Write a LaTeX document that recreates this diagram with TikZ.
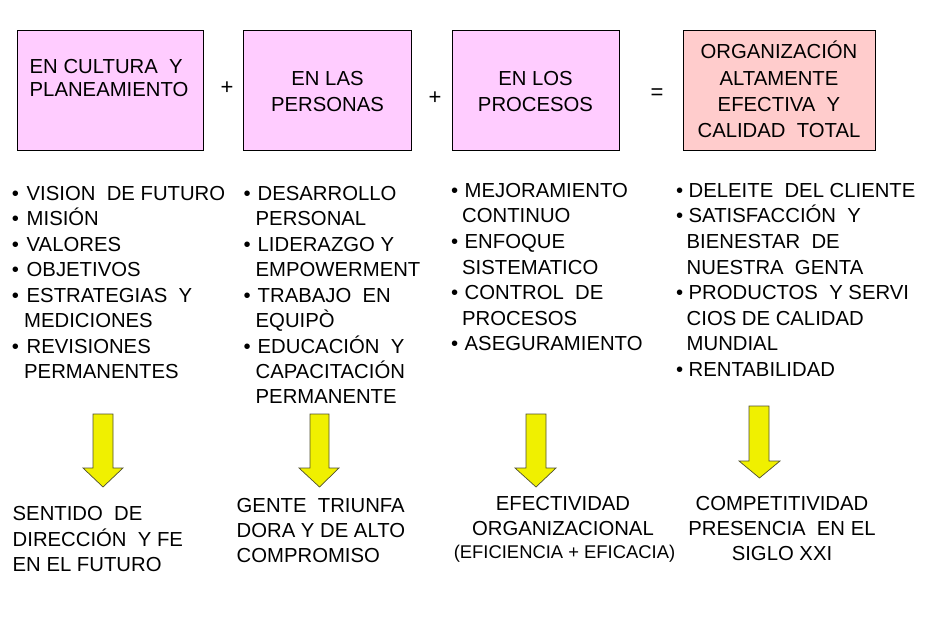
\documentclass[tikz,border=0pt]{standalone}
\usepackage{fontspec}
\setmainfont{Liberation Sans}
\definecolor{pinkA}{HTML}{FFCCFF}
\definecolor{pinkB}{HTML}{FFCCCC}
\definecolor{yel}{HTML}{F0F000}
\definecolor{yedge}{HTML}{505030}
\begin{document}
\begin{tikzpicture}[x=1pt,y=-1pt]
\useasboundingbox (0,0) rectangle (930,626);
\tikzset{
  boxbase/.style={draw=black,line width=0.9pt,inner sep=0,minimum height=120pt},
  boxA/.style={boxbase,fill=pinkA},
  boxB/.style={boxbase,fill=pinkB},
  ln/.style={anchor=base west,inner sep=0,font=\fontsize{20.3}{24}\selectfont},
  lnc/.style={anchor=base,inner sep=0,font=\fontsize{20.3}{24}\selectfont},
  lns/.style={anchor=base,inner sep=0,font=\fontsize{18.4}{22}\selectfont},
  bul/.style={anchor=base west,inner sep=0,font=\fontsize{20.3}{24}\selectfont},
  op/.style={inner sep=0,font=\fontsize{22}{24}\selectfont},
  yarrow/.style={fill=yel,draw=yedge,line width=0.7pt,line join=miter}
}
% boxes
\node[boxA,minimum width=186pt] (b1) at (110,90) {};
\node[boxA,minimum width=168pt] (b2) at (327,90) {};
\node[boxA,minimum width=167pt] (b3) at (535.5,90) {};
\node[boxB,minimum width=192pt] (b4) at (779,90) {};
% box texts
\node[ln] (b1a) at (29.5,74) {EN CULTURA~ Y};
\node[ln] (b1b) at (29.5,97) {PLANEAMIENTO};
\node[lnc] (b2a) at (327.5,86) {EN LAS};
\node[lnc] (b2b) at (327.5,111) {PERSONAS};
\node[lnc] (b3a) at (535.5,85) {EN LOS};
\node[lnc] (b3b) at (535.5,111) {PROCESOS};
\node[lnc] (b4a) at (779,59) {ORGANIZACIÓN};
\node[lnc] (b4b) at (779,85) {ALTAMENTE};
\node[lnc] (b4c) at (779,111) {EFECTIVA~ Y};
\node[lnc] (b4d) at (779,137) {CALIDAD~ TOTAL};
% operators
\node[op] (p1) at (227,88) {+};
\node[op] (p2) at (435,98) {+};
\node[op] (p3) at (657,94) {=};
% bullets
\foreach \n/\xx/\yy in {u1/11.8/200,u2/11.8/225,u3/11.8/251,u4/11.8/276,u5/11.8/302,u6/11.8/353,
  v1/243.5/200,v2/243.5/251,v3/243.5/302,v4/243.5/353,
  w1/451/197,w2/451/248,w3/451/299,w4/451/350,
  z1/676/197,z2/676/222,z3/676/299,z4/676/376}
  \node[bul] (\n) at (\xx,\yy) {•};
% list texts
\foreach \n/\xx/\yy/\t in {
  c1a/26.5/200/VISION~ DE FUTURO, c1b/26.5/225/MISIÓN, c1c/26.5/251/VALORES,
  c1d/26.5/276/OBJETIVOS, c1e/26.5/302/ESTRATEGIAS~ Y, c1f/24/327/MEDICIONES,
  c1g/26.5/353/REVISIONES, c1h/24/378/PERMANENTES,
  c2a/257.5/200/DESARROLLO, c2b/255.5/225/PERSONAL, c2c/257.5/251/LIDERAZGO Y,
  c2d/255.5/276/EMPOWERMENT, c2e/257.5/302/TRABAJO~ EN, c2f/255.5/327/EQUIPÒ,
  c2g/257.5/353/EDUCACIÓN~ Y, c2h/255.5/378/CAPACITACIÓN, c2i/255.5/403/PERMANENTE,
  c3a/464.5/197/MEJORAMIENTO, c3b/462/222/CONTINUO, c3c/464.5/248/ENFOQUE,
  c3d/462/274/SISTEMATICO, c3e/464.5/299/CONTROL~ DE, c3f/462/325/PROCESOS,
  c3g/464.5/350/ASEGURAMIENTO,
  c4a/688.5/197/DELEITE~ DEL CLIENTE, c4b/688.5/222/SATISFACCIÓN~ Y,
  c4c/686.5/248/BIENESTAR~ DE, c4d/686.5/274/NUESTRA~ GENTA,
  c4e/688.5/299/PRODUCTOS~ Y SERVI, c4f/686.5/325/CIOS DE CALIDAD,
  c4g/686.5/350/MUNDIAL, c4h/688.5/376/RENTABILIDAD}
  \node[ln] (\n) at (\xx,\yy) {\t};
% arrows
\draw[yarrow] (93,414) -- (113,414) -- (113,468) -- (123,468) -- (103,487) -- (83,468) -- (93,468) -- cycle;
\draw[yarrow] (310,414) -- (329,414) -- (329,468) -- (339,468) -- (319.5,487) -- (299,468) -- (310,468) -- cycle;
\draw[yarrow] (526,414) -- (546,414) -- (546,468) -- (556,468) -- (536,487) -- (515,468) -- (526,468) -- cycle;
\draw[yarrow] (749,406) -- (769,406) -- (769,461) -- (780,461) -- (759.5,478) -- (739,461) -- (749,461) -- cycle;
% results
\node[ln] (r1a) at (12.5,520) {SENTIDO~ DE};
\node[ln] (r1b) at (12.5,546) {DIRECCIÓN~ Y FE};
\node[ln] (r1c) at (12.5,571) {EN EL FUTURO};
\node[ln] (r2a) at (236.5,512) {GENTE~ TRIUNFA};
\node[ln] (r2b) at (236.5,537) {DORA Y DE ALTO};
\node[ln] (r2c) at (236.5,562) {COMPROMISO};
\node[lnc] (r3a) at (563,510) {EFECTIVIDAD};
\node[lnc] (r3b) at (563,535) {ORGANIZACIONAL};
\node[lns] (r3c) at (564.5,558) {(EFICIENCIA + EFICACIA)};
\node[lnc] (r4a) at (782,510) {COMPETITIVIDAD};
\node[lnc] (r4b) at (782,535) {PRESENCIA~ EN EL};
\node[lnc] (r4c) at (782,560) {SIGLO XXI};
\end{tikzpicture}
\end{document}
